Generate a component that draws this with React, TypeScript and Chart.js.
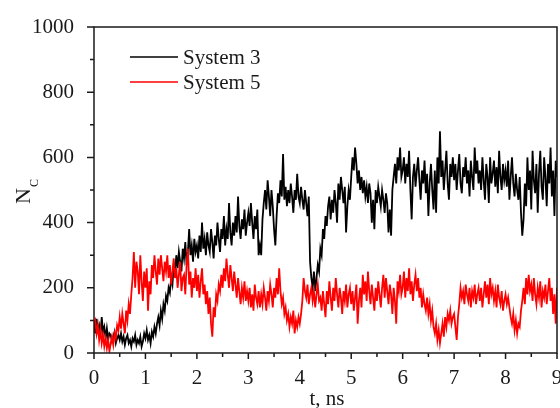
import { useEffect, useRef } from 'react';
import { Chart, registerables } from 'chart.js';

Chart.register(...registerables);

// time step between samples, ns
const T_STEP = 0.025;

// N_C for System 3 (black), samples every 0.025 ns from 0 to 9 ns
const SYSTEM3: number[] = [
  95, 60, 105, 70, 85, 50, 110, 65, 80, 45,
  75, 40, 60, 55, 35, 50, 65, 30, 45, 55,
  40, 60, 35, 50, 25, 45, 55, 30, 40, 20,
  45, 35, 55, 25, 40, 30, 50, 20, 35, 60,
  45, 70, 40, 55, 30, 65, 50, 80, 60, 90,
  110, 85, 130, 105, 150, 130, 175, 160, 200, 185,
  230, 210, 270, 250, 300, 260, 310, 280, 250, 320,
  290, 340, 270, 310, 380, 300, 330, 280, 350, 310,
  330, 290, 360, 310, 400, 320, 350, 300, 370, 330,
  310, 380, 340, 290, 360, 330, 400, 350, 310, 380,
  350, 420, 330, 380, 350, 460, 370, 330, 400, 360,
  420, 370, 480, 390, 350, 410, 380, 440, 360, 400,
  430, 390, 460, 400, 350, 420, 380, 440, 300, 330,
  300, 410, 460, 500, 440, 530, 480, 420, 500, 450,
  380, 330, 420, 490, 460, 530, 480, 610, 470, 510,
  450, 500, 460, 520, 480, 430, 500, 470, 550, 480,
  460, 510, 470, 440, 500, 460, 420, 480, 280, 230,
  200, 250, 190, 230, 270, 250, 320, 300, 380, 350,
  420, 390, 450, 480, 410, 470, 430, 500, 460, 400,
  520, 470, 540, 500, 460, 510, 370, 450, 500, 470,
  540, 600, 560, 630, 580, 520, 560, 500, 540, 490,
  530, 480, 510, 460, 520, 490, 400, 470, 380, 500,
  460, 510, 480, 450, 500, 470, 430, 490, 460, 370,
  440, 360, 500, 540, 580, 520, 600, 560, 630, 540,
  560, 600, 520, 580, 540, 620, 500, 410, 540, 580,
  510, 560, 600, 530, 470, 560, 520, 590, 490, 550,
  420, 520, 580, 500, 440, 560, 430, 600, 520, 680,
  540, 590, 500, 560, 620, 520, 470, 580, 540, 600,
  530, 580, 500, 560, 610, 520, 490, 570, 540, 600,
  520, 560, 480, 590, 540, 500, 630, 550, 590, 520,
  560, 500, 600, 530, 470, 580, 540, 460, 600, 520,
  550, 590, 510, 570, 490, 620, 540, 500, 580, 530,
  560, 510, 590, 470, 540, 600, 520, 480, 550, 500,
  470, 540, 430, 360, 410, 520, 450, 600, 500, 560,
  440, 620, 530, 490, 580, 430, 550, 620, 510, 470,
  600, 540, 450, 580, 520, 630, 480, 560, 420, 590,
  540,
];

// N_C for System 5 (red)
const SYSTEM5: number[] = [
  90, 100, 60, 85, 40, 70, 30, 55, 20, 45,
  15, 40, 5, 30, 50, 25, 60, 45, 85, 70,
  110, 75, 120, 90, 60, 130, 100, 150, 120, 180,
  230, 310, 200, 280, 250, 180, 300, 220, 160, 250,
  200, 260, 130, 220, 180, 270, 230, 300, 250, 210,
  290, 240, 300, 260, 220, 280, 250, 300, 230, 270,
  210, 250, 290, 230, 260, 200, 240, 280, 190, 230,
  240, 180, 270, 320, 210, 250, 170, 230, 200, 260,
  190, 240, 170, 220, 260, 180, 210, 150, 190, 120,
  170, 90, 50, 140, 110, 180, 160, 210, 190, 240,
  200, 260, 220, 290, 240, 200, 270, 230, 190, 250,
  210, 170, 230, 190, 150, 200, 170, 220, 160, 190,
  160, 200, 140, 180, 130, 210, 170, 150, 190, 140,
  180, 150, 200, 170, 130, 190, 160, 210, 180, 140,
  200, 170, 230, 180, 260, 190, 150, 170, 120, 140,
  100, 120, 80, 110, 90, 130, 60, 100, 80, 110,
  90, 120, 160, 230, 190, 170, 210, 150, 180, 200,
  160, 190, 140, 180, 210, 160, 170, 130, 190, 150,
  110, 190, 150, 220, 170, 130, 200, 160, 230, 180,
  140, 200, 170, 120, 190, 160, 210, 140, 180, 200,
  150, 190, 130, 170, 210, 90, 160, 200, 140, 240,
  180, 220, 160, 250, 190, 150, 210, 170, 130, 200,
  160, 220, 180, 140, 200, 240, 170, 230, 190, 150,
  210, 180, 120, 200, 160, 90, 220, 190, 240, 180,
  200, 250, 170, 230, 190, 260, 180, 220, 160, 210,
  240, 190, 230, 170, 200, 140, 180, 150, 130, 170,
  120, 150, 100, 130, 80, 60, 90, 40, 70, 30,
  60, 90, 50, 110, 80, 120, 100, 130, 90, 110,
  120, 80, 40, 110, 150, 200, 170, 190, 150, 210,
  180, 160, 200, 140, 190, 170, 210, 150, 180, 200,
  160, 200, 140, 180, 220, 170, 210, 150, 230, 180,
  200, 160, 190, 140, 210, 170, 150, 190, 130, 160,
  180, 150, 170, 140, 110, 90, 120, 70, 100, 60,
  90, 80, 130, 160, 200, 150, 230, 180, 240, 190,
  210, 160, 230, 180, 150, 200, 170, 220, 140, 190,
  170, 210, 150, 190, 230, 160, 200, 120, 180, 90,
  200,
];

const TIMES: number[] = SYSTEM3.map((_, i) => +(i * T_STEP).toFixed(3));

const SERIES_NAMES = ['System 3', 'System 5'];
const SERIES_COLORS = ['#000000', '#ff0000'];
const X_TITLE = 't, ns';
const Y_TITLE_MAIN = 'N';
const Y_TITLE_SUB = 'C';

const FONT = "'Liberation Serif', 'Times New Roman', serif";
const AXIS_COLOR = '#1a1a1a';

const framePlugin = {
  id: 'framePlugin',
  afterDraw(chart: any) {
    const { ctx, chartArea: a, scales } = chart;
    ctx.save();
    ctx.strokeStyle = AXIS_COLOR;
    ctx.lineWidth = 1.5;
    ctx.strokeRect(a.left, a.top, a.right - a.left, a.bottom - a.top);
    ctx.beginPath();
    for (let v = 0; v <= 1000; v += 100) {
      const y = scales.y.getPixelForValue(v);
      const len = v % 200 === 0 ? 7 : 4;
      ctx.moveTo(a.left - len, y);
      ctx.lineTo(a.left, y);
    }
    for (let k = 0; k <= 18; k++) {
      const x = scales.x.getPixelForValue(k / 2);
      const len = k % 2 === 0 ? 6 : 4;
      ctx.moveTo(x, a.bottom);
      ctx.lineTo(x, a.bottom + len);
    }
    ctx.stroke();

    // legend
    ctx.font = `21px ${FONT}`;
    ctx.textBaseline = 'middle';
    ctx.textAlign = 'left';
    const rows = [57, 82];
    SERIES_NAMES.forEach((name, i) => {
      ctx.strokeStyle = SERIES_COLORS[i];
      ctx.lineWidth = 1.5;
      ctx.beginPath();
      ctx.moveTo(130, rows[i]);
      ctx.lineTo(178, rows[i]);
      ctx.stroke();
      ctx.fillStyle = AXIS_COLOR;
      ctx.fillText(name, 183, rows[i] + 1);
    });

    // x title
    ctx.textAlign = 'center';
    ctx.textBaseline = 'alphabetic';
    ctx.fillText(X_TITLE, 327, 405);

    // y title (rotated)
    ctx.translate(30, 204);
    ctx.rotate(-Math.PI / 2);
    ctx.textAlign = 'left';
    ctx.font = `22px ${FONT}`;
    ctx.fillText(Y_TITLE_MAIN, 0, 0);
    const w = ctx.measureText(Y_TITLE_MAIN).width;
    ctx.font = `12px ${FONT}`;
    ctx.fillText(Y_TITLE_SUB, w + 1, 8);
    ctx.restore();
  },
};

export default function App() {
  const ref = useRef<HTMLCanvasElement | null>(null);

  useEffect(() => {
    if (!ref.current) return;
    const chart = new Chart(ref.current, {
      type: 'line',
      data: {
        datasets: [
          {
            label: SERIES_NAMES[1],
            data: TIMES.map((t, i) => ({ x: t, y: SYSTEM5[i] })),
            borderColor: SERIES_COLORS[1],
            borderWidth: 1.8,
            pointRadius: 0,
            tension: 0,
          },
          {
            label: SERIES_NAMES[0],
            data: TIMES.map((t, i) => ({ x: t, y: SYSTEM3[i] })),
            borderColor: SERIES_COLORS[0],
            borderWidth: 1.8,
            pointRadius: 0,
            tension: 0,
          },
        ],
      },
      options: {
        responsive: false,
        animation: false,
        layout: { padding: { top: 27, right: 3, left: 0, bottom: 0 } },
        plugins: { legend: { display: false }, tooltip: { enabled: false } },
        scales: {
          x: {
            type: 'linear',
            min: 0,
            max: 9,
            grid: { display: false },
            border: { display: false },
            ticks: {
              stepSize: 1,
              maxRotation: 0,
              color: AXIS_COLOR,
              padding: 5,
              font: { family: FONT, size: 21 },
              callback: (v: any) => String(v),
            },
            afterFit(s: any) {
              s.height = 55;
              s.paddingLeft = 0;
              s.paddingRight = 0;
            },
          },
          y: {
            type: 'linear',
            min: 0,
            max: 1000,
            grid: { display: false },
            border: { display: false },
            ticks: {
              stepSize: 200,
              color: AXIS_COLOR,
              padding: 12,
              font: { family: FONT, size: 21 },
              callback: (v: any) => String(v),
            },
            afterFit(s: any) {
              s.width = 94;
              s.paddingTop = 0;
              s.paddingBottom = 0;
            },
          },
        },
      },
      plugins: [framePlugin],
    });
    return () => chart.destroy();
  }, []);

  return (
    <div style={{ position: 'fixed', left: 0, top: 0, width: 560, height: 408, background: '#fff' }}>
      <canvas ref={ref} width={560} height={408} style={{ display: 'block' }} />
    </div>
  );
}
